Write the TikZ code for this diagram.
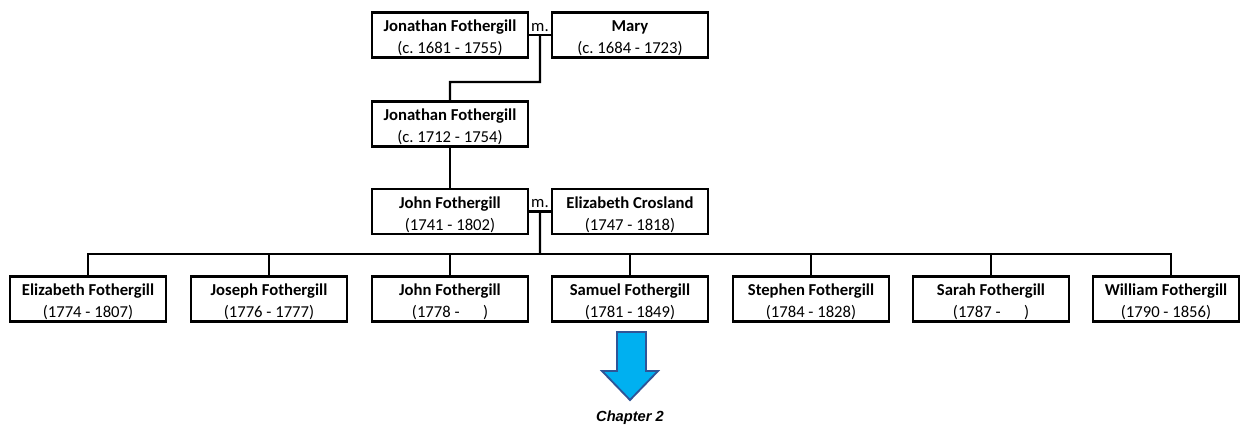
\documentclass[tikz,border=0pt]{standalone}
\usepackage{fontspec}
\setmainfont{Carlito}
\newfontfamily\arialfont{Liberation Sans}
\usepackage{tikz}
\usetikzlibrary{calc}
\frenchspacing
\newcommand{\pname}[1]{\rule{0pt}{13.5pt}\textbf{#1}}

\begin{document}
\begin{tikzpicture}[x=0.75pt,y=-0.75pt,
        person/.style={draw=black, line width=1.6pt, fill=white, align=center,
            minimum width=117pt, minimum height=33pt, inner sep=1pt,
            font=\fontsize{12.5}{16.5}\selectfont},
        link/.style={black, line width=1.6pt},
        marr/.style={font=\fontsize{12.5}{14}\selectfont, inner sep=1pt}]
        \useasboundingbox (0,0) rectangle (1241,425);
        % first generations
        \node[person] (jon1) at (450,35) {\pname{Jonathan Fothergill}\\(c. 1681 - 1755)};
        \node[person] (mary) at (630,35) {\pname{Mary}\\(c. 1684 - 1723)};
        \node[person] (jon2) at (450,124) {\pname{Jonathan Fothergill}\\(c. 1712 - 1754)};
        \node[person] (john) at (450,211.5) {\pname{John Fothergill}\\(1741 - 1802)};
        \node[person] (eliz) at (630,211.5) {\pname{Elizabeth Crosland}\\(1747 - 1818)};
        % children
        \node[person] (c1) at (88,299) {\pname{Elizabeth Fothergill}\\(1774 - 1807)};
        \node[person] (c2) at (269,299) {\pname{Joseph Fothergill}\\(1776 - 1777)};
        \node[person] (c3) at (450,299) {\pname{John Fothergill}\\(1778 -\hspace{1.4em})};
        \node[person] (c4) at (630,299) {\pname{Samuel Fothergill}\\(1781 - 1849)};
        \node[person] (c5) at (811,299) {\pname{Stephen Fothergill}\\(1784 - 1828)};
        \node[person] (c6) at (991,299) {\pname{Sarah Fothergill}\\(1787 -\hspace{1.4em})};
        \node[person, minimum width=109.5pt] (c7) at (1166,299) {\pname{William Fothergill}\\(1790 - 1856)};

        % marriages
        \coordinate (m1) at ($(jon1.east)!0.5!(mary.west)$);
        \coordinate (m2) at ($(john.east)!0.5!(eliz.west)$);
        \node[marr, anchor=south] (mlab1) at ([yshift=1.5pt]m1) {m.};
        \node[marr, anchor=south] (mlab2) at ([yshift=1.5pt]m2) {m.};
        \draw[link] (jon1.east) -- (mary.west);
        \draw[link] (john.east) -- (eliz.west);

        % descent
        \coordinate (b1) at (540,82);
        \coordinate (b2) at (540,254);
        \draw[link] (m1) -- (b1) -| (jon2.north);
        \draw[link] (jon2.south) -- (john.north);
        \draw[link] (m2) -- (b2);
        \foreach \c in {c1,c2,c3,c5,c6}
            \draw[link] (b2) -| (\c.north);
        \draw[link] (b2) -| ([xshift=3.75pt]c7.north);
        \draw[link] (b2) -| (c4.north);

        % arrow to next chapter
        \filldraw[fill={rgb,255:red,0;green,176;blue,240}, draw={rgb,255:red,47;green,85;blue,151}, line width=1.4pt]
            (617,332) -- (646,332) -- (646,371) -- (658,371) -- (630,400)
            -- (602,371) -- (617,371) -- cycle;
        \node[font=\arialfont\fontsize{11}{13}\selectfont\bfseries\itshape] (chap) at (630,418) {Chapter 2};
\end{tikzpicture}
\end{document}
